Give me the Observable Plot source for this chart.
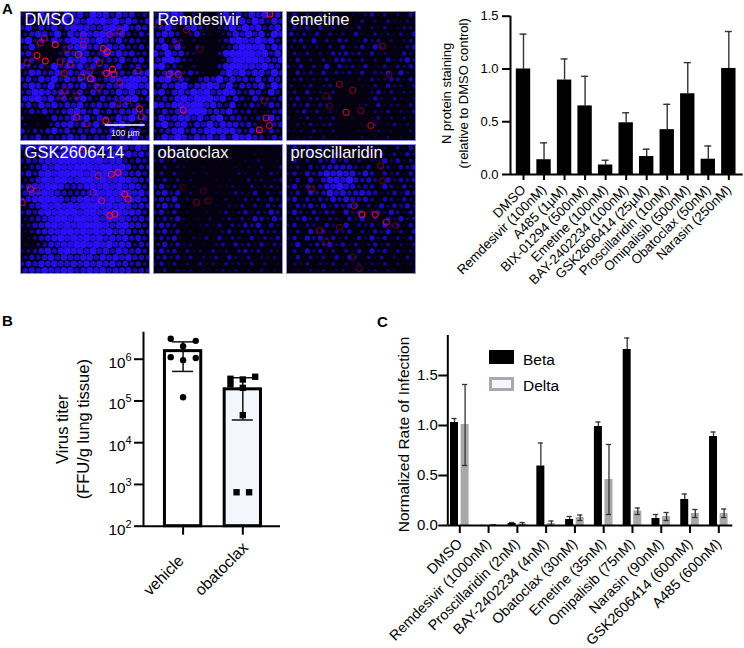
<!DOCTYPE html>
<html>
<head>
<meta charset="utf-8">
<script src="https://cdn.jsdelivr.net/npm/d3@7"></script>
<script src="https://cdn.jsdelivr.net/npm/@observablehq/plot@0.6"></script>
<style>
html,body{margin:0;padding:0;background:#fff}
#page{position:relative;width:744px;height:648px;overflow:hidden;font-family:"Liberation Sans",Arial,sans-serif;color:#000}
#page>.slot{position:absolute}
#page svg{display:block;overflow:visible;background:transparent}
.letter{position:absolute;font-weight:700;font-size:15px;line-height:15px}
.swatch{position:absolute;left:489px;width:25px;height:14px;box-sizing:border-box}
.legtext{position:absolute;left:523px;font-size:15.5px;line-height:16px}
</style>
</head>
<body>
<div id="page"></div>
<script>
// ---------- Micrograph panels: hand-estimated blue brightness (0-9) on a 20x20 grid; red rings [x, y, strength]
const panelNames = ["DMSO","Remdesivir","emetine","GSK2606414","obatoclax","proscillaridin"];
const dmsoBlue = ["46385729684978586735","37468395869897968647","58375847988768979576","46875938697898685364","69463857988697584653","48310147896758675463","57200247687459686745","46310358796846584673","75463957685746473564","48756847586357564768","57486958675846878998","68759467584757689978","46987675473756586857","78968574685375678946","57486857684675857463","36475468975846576856","42103756868475486957","31204678575846795463","63546857465764854763","54735468574657365845"];
const remBlue = ["48697043205857486957","75849533204968597486","36940685324596978568","68750473203586968497","47364031103589879785","69483042003479989586","85967431004899998958","68974320103799998768","79453031105899887976","46874642016979688596","78957405769586758476","47689578985947668496","68478698967985476385","46589799978475375446","87689899786483464375","47578999676854532356","48678868579466435485","69578476958775642356","45689576898886475364","48697586858497865364"];
const emeBlue = ["25142413102135241315","41524253201413142231","25351524132413241243","53425142315214231425","24526142541253413134","31423141523526312245","14241325453425231153","25131425542413152463","42514261534251241435","15341524342514352631","13423242100314235425","31241342101224153314","24152314100113524132","35243241100125314212","24352431210231523314","13524132100213241324","31241324102112413132","13142342110213124231","21314213100221312113","12231312121312131211"];
const gskBlue = ["58697879985768697586","46578698978957878675","46578899989897885465","35687988999899897465","47589899998989897675","35798998899898898765","57889986678989897875","68798765567989898785","57899986789898987886","36798989899989898676","46589899989989898875","35678998998979887675","34678989899998789775","24678899898989787565","12467898989897878675","21457788998989787465","34578689887978687675","46578687788687878665","57687877878787867564","67687788678786777565"];
const obaBlue = ["13042101100010101001","24143011101001020112","35241200101010213012","14032102010120213124","24142021201013213142","35241301021201423134","46342120102132142342","57461301021243251424","46572310210312424253","57462010120324142535","46351201212413524364","35462021312424265364","46541212324143546253","46351201213524435342","35462132415243152435","46352312134153425243","36451423142314534132","45352413241532413231","35241314231423241312","24132312123231213121"];
const proBlue = ["25142431201324231425","34151425320142514253","15241536352413263524","24153566664251342546","35264687877475153425","25163688796564263545","46253577976455164253","35164586756765235364","46253547576564154253","25463635465242635463","36425354163524536425","24635243153624153634","35243153261435263425","24163524351425362415","35264635241536352425","26135463524135241324","14263524142516351423","25142415253142413142","13241324132313241312","12132312312123132112"];
const panelBlue = [dmsoBlue,remBlue,emeBlue,gskBlue,obaBlue,proBlue];
const dmsoRed = [[50,133,.95],[105,100,.95],[75,150,.9],[60,95,.6],[72,80,.6],[175,130,.8],[250,112,.95],[262,122,.95],[238,155,.6],[212,203,.95],[260,187,.9],[278,175,.95],[283,190,.8],[185,198,.6],[132,187,.6],[150,160,.6],[120,152,.5],[300,60,.5],[270,70,.5],[190,75,.4],[190,100,.5],[140,115,.4],[135,240,.4],[125,255,.4],[170,255,.4],[235,230,.5],[295,280,.4],[325,270,.4],[360,295,.7],[365,318,.7],[258,330,.9],[170,320,.6],[200,340,.4],[300,215,.5],[355,180,.5],[20,155,.5],[210,180,.5]];
const remRed = [[352,8,.95],[320,358,.95],[340,322,.8],[350,345,.7],[90,298,.8],[75,190,.7],[48,190,.7],[15,40,.4],[100,55,.4],[70,100,.4],[335,270,.4],[140,115,.3]];
const emeRed = [[255,345,.6],[180,305,.7],[200,238,.5],[160,220,.5],[120,255,.3],[130,285,.3],[290,105,.4],[225,300,.4],[310,190,.3]];
const gskRed = [[275,90,.9],[295,85,.9],[315,150,.9],[325,165,.9],[270,215,.95],[285,210,.95],[245,170,.7],[30,135,.7],[5,175,.7],[50,140,.4],[235,95,.5],[190,10,.5],[220,145,.4]];
const obaRed = [[150,140,.25],[130,175,.35],[165,170,.3],[90,130,.2]];
const proRed = [[228,212,.95],[268,212,.8],[302,235,.7],[285,65,.4],[75,135,.4],[100,260,.4],[205,185,.5],[160,250,.3],[200,340,.3],[220,375,.3],[290,110,.3],[120,295,.3],[330,245,.3]];
const panelRed = [dmsoRed,remRed,emeRed,gskRed,obaRed,proRed];

// ---------- Panel A bars
const aNames = ["DMSO","Remdesivir (100nM)","A485 (1µM)","BIX-01294 (500nM)","Emetine (100nM)","BAY-2402234 (100nM)","GSK2606414 (25µM)","Proscillaridin (10nM)","Omipalisib (500nM)","Obatoclax (50nM)","Narasin (250nM)"];
const aMean = [1.0,0.14,0.895,0.65,0.09,0.49,0.17,0.425,0.765,0.145,1.005];
const aTop  = [1.33,0.30,1.095,0.93,0.135,0.585,0.24,0.665,1.06,0.27,1.355];

// ---------- Panel B
const bNames = ["vehicle","obatoclax"];
const bMean = [1.56e6,1.9e5];
const bLow  = [5.1e5,3.5e4];
const bHigh = [2.6e6,3.6e5];
const bFill = ["#ffffff","#f4f6fd"];
const vehicleX = [-0.207,0.212,0,-0.207,0.212,0,0];
const vehicleY = [3.08e6,2.75e6,2.05e6,1.12e6,1.07e6,9.5e5,1.23e5];
const obaX = [-0.207,-0.207,0,0.207,0,0,-0.105,0.105];
const obaY = [3.4e5,2.5e5,3.27e5,3.8e5,2.06e5,4.57e4,650,650];
const bExp = [2,3,4,5,6];

// ---------- Panel C
const cNames = ["DMSO","Remdesivir (1000nM)","Proscillaridin (2nM)","BAY-2402234 (4nM)","Obatoclax (30nM)","Emetine (35nM)","Omipalisib (75nM)","Narasin (90nM)","GSK2606414 (600nM)","A485 (600nM)"];
const betaMean = [1.03,0,0.02,0.595,0.06,0.99,1.76,0.07,0.26,0.89];
const betaHigh = [1.07,0,0.03,0.825,0.09,1.035,1.875,0.11,0.315,0.935];
const deltaMean = [1.01,0.005,0.015,0.02,0.08,0.46,0.145,0.09,0.12,0.12];
const deltaLow  = [0.60,0.005,0.005,0,0.05,0.11,0.11,0.05,0.08,0.08];
const deltaHigh = [1.41,0.005,0.03,0.045,0.105,0.81,0.175,0.13,0.16,0.165];

const FONT = '"Liberation Sans",Arial,sans-serif';
const page = document.getElementById("page");
function place(node,left,top){const d=document.createElement("div");d.className="slot";d.style.left=left+"px";d.style.top=top+"px";d.appendChild(node);page.appendChild(d);}

// ---------- micrographs
const lefts=[20,153,286], tops=[11,144];
panelNames.forEach((name,k)=>{
  const dots=[];
  panelBlue[k].forEach((row,r)=>{[...row].forEach((c,col)=>dots.push({x:(col+.5+(r%2?.25:-.25))*19.5,y:(r+.5)*19.5,v:+c}));});
  const isDmso = k===0;
  const plot = Plot.plot({
    width:129,height:129,margin:0,
    style:{fontFamily:FONT,background:"#05000f"},
    x:{domain:[0,390],axis:null},
    y:{domain:[390,0],axis:null},
    color:{type:"linear",domain:[0,5,9],range:["#05000f","#1608b0","#2a10f8"]},
    r:{type:"linear",domain:[0,9],range:[0.5,3.7]},
    marks:[
      Plot.dot(dots,{x:"x",y:"y",r:"v",fill:"v",clip:true}),
      Plot.dot(panelRed[k],{x:d=>d[0],y:d=>d[1],r:3,stroke:"#f01038",strokeWidth:1.1,strokeOpacity:d=>d[2],clip:true}),
      Plot.text([name],{frameAnchor:"top-left",dx:4,dy:2,fill:"#f4f4f4",fontSize:16.6,lineAnchor:"top"}),
      isDmso?Plot.ruleY([343],{x1:256,x2:377,stroke:"#fff",strokeWidth:1.5}):null,
      isDmso?Plot.text(["100 µm"],{x:317,y:369,fill:"#f0f0f0",fontSize:8.6}):null,
      Plot.frame({stroke:"#8c8cd8",strokeWidth:1})
    ]
  });
  place(plot,lefts[k%3],tops[Math.floor(k/3)]);
});

// ---------- Panel A bars
{
  const rows=aNames.map((n,i)=>({i,n,m:aMean[i],t:aTop[i]}));
  const plot=Plot.plot({
    width:314,height:280,marginLeft:80,marginRight:1.3,marginTop:15.7,marginBottom:106,
    style:{fontFamily:FONT,background:"transparent",color:"#000"},
    x:{domain:[-0.633,10.70]},
    y:{domain:[0,1.5]},
    marks:[
      Plot.ruleX(rows,{x:"i",y1:"m",y2:"t",stroke:"#333",strokeWidth:1.4}),
      Plot.ruleY(rows,{y:"t",x1:d=>d.i-0.17,x2:d=>d.i+0.17,stroke:"#333",strokeWidth:1.4}),
      Plot.rect(rows,{x1:d=>d.i-0.35,x2:d=>d.i+0.35,y1:0,y2:"m",fill:"#000"}),
      Plot.ruleY([0],{stroke:"#000",strokeWidth:2}),
      Plot.ruleX([-0.633],{stroke:"#000",strokeWidth:2}),
      Plot.axisY({ticks:[0,0.5,1,1.5],tickFormat:".1f",tickSize:8,tickPadding:4,strokeWidth:2,fontSize:13,label:null}),
      Plot.axisX({ticks:d3.range(11),tickFormat:()=>"",tickSize:6,strokeWidth:2,label:null}),
      Plot.text(rows,{x:"i",y:0,text:"n",rotate:-45,textAnchor:"end",lineAnchor:"middle",dx:0,dy:13,fontSize:13.3}),
      Plot.text(["N protein staining\n(relative to DMSO control)"],{frameAnchor:"left",textAnchor:"middle",rotate:-90,dx:-56.5,dy:-2,lineHeight:1.35,fontSize:13})
    ]
  });
  place(plot,430,0);
}

// ---------- Panel B
{
  const rows=bNames.map((n,i)=>({i,n,m:bMean[i],lo:bLow[i],hi:bHigh[i],f:bFill[i]}));
  const yTop=Math.pow(10,6.647);
  const plot=Plot.plot({
    width:285,height:348,marginLeft:143,marginRight:5,marginTop:31.7,marginBottom:122.3,
    style:{fontFamily:FONT,background:"transparent",color:"#000"},
    x:{domain:[-0.663,1.631]},
    y:{type:"log",domain:[100,yTop]},
    marks:[
      Plot.rect(rows,{x1:d=>d.i-0.304,x2:d=>d.i+0.304,y1:100,y2:"m",fill:"f",stroke:"#000",strokeWidth:3}),
      Plot.ruleX(rows,{x:"i",y1:"lo",y2:"hi",stroke:"#111",strokeWidth:1.5}),
      Plot.ruleY(rows,{y:"lo",x1:d=>d.i-0.176,x2:d=>d.i+0.176,stroke:"#111",strokeWidth:1.5}),
      Plot.ruleY(rows,{y:"hi",x1:d=>d.i-0.176,x2:d=>d.i+0.176,stroke:"#111",strokeWidth:1.5}),
      Plot.dot(vehicleX,{x:d=>d,y:(d,i)=>vehicleY[i],r:3.2,fill:"#000"}),
      Plot.dot(obaX,{x:d=>1+d,y:(d,i)=>obaY[i],r:3.6,symbol:"square",fill:"#000"}),
      Plot.ruleY([100],{stroke:"#000",strokeWidth:2}),
      Plot.ruleX([-0.663],{stroke:"#000",strokeWidth:2}),
      Plot.axisY({ticks:bExp.map(e=>Math.pow(10,e)),tickFormat:()=>"",tickSize:9,strokeWidth:2,label:null}),
      Plot.text(bExp,{y:e=>Math.pow(10,e),frameAnchor:"left",text:()=>"10",textAnchor:"end",dx:-18,dy:3.5,fontSize:15.3}),
      Plot.text(bExp,{y:e=>Math.pow(10,e),frameAnchor:"left",text:e=>String(e),textAnchor:"start",dx:-18,dy:-2,fontSize:11}),
      Plot.axisX({ticks:[0,1],tickFormat:()=>"",tickSize:9,strokeWidth:2,label:null}),
      Plot.text(rows.slice(0,1),{x:"i",y:100,text:"n",rotate:-45,textAnchor:"end",lineAnchor:"middle",dx:-2,dy:32,fontSize:15.8}),
      Plot.text(rows.slice(1),{x:"i",y:100,text:"n",rotate:-45,textAnchor:"end",lineAnchor:"middle",dx:2.7,dy:19,fontSize:15.8}),
      Plot.text(["Virus titer\n(FFU/g lung tissue)"],{frameAnchor:"left",textAnchor:"middle",rotate:-90,dx:-72,lineHeight:1.3,fontSize:16.5})
    ]
  });
  place(plot,0,300);
}

// ---------- Panel C
{
  const beta=cNames.map((n,i)=>({x:i-0.184,m:betaMean[i],hi:betaHigh[i]}));
  const delta=cNames.map((n,i)=>({x:i+0.184,m:deltaMean[i],lo:deltaLow[i],hi:deltaHigh[i]}));
  const plot=Plot.plot({
    width:374,height:338,marginLeft:77.3,marginRight:11.7,marginTop:25,marginBottom:123,
    style:{fontFamily:FONT,background:"transparent",color:"#000"},
    x:{domain:[-0.417,9.486]},
    y:{domain:[0,1.9]},
    marks:[
      Plot.ruleX(beta,{x:"x",y1:"m",y2:"hi",stroke:"#333",strokeWidth:1.3}),
      Plot.ruleY(beta,{y:"hi",x1:d=>d.x-0.09,x2:d=>d.x+0.09,stroke:"#333",strokeWidth:1.3}),
      Plot.rect(beta,{x1:d=>d.x-0.139,x2:d=>d.x+0.139,y1:0,y2:"m",fill:"#000"}),
      Plot.rect(delta,{x1:d=>d.x-0.139,x2:d=>d.x+0.139,y1:0,y2:"m",fill:"#a9a9ac"}),
      Plot.ruleX(delta,{x:"x",y1:"lo",y2:"hi",stroke:"#333",strokeWidth:1.3}),
      Plot.ruleY(delta,{y:"hi",x1:d=>d.x-0.09,x2:d=>d.x+0.09,stroke:"#333",strokeWidth:1.3}),
      Plot.ruleY(delta,{y:"lo",x1:d=>d.x-0.09,x2:d=>d.x+0.09,stroke:"#333",strokeWidth:1.3}),
      Plot.ruleY([0],{stroke:"#000",strokeWidth:2}),
      Plot.ruleX([-0.417],{stroke:"#000",strokeWidth:2}),
      Plot.axisY({ticks:[0,0.5,1,1.5],tickFormat:".1f",tickSize:9,tickPadding:1,strokeWidth:2,fontSize:15,label:null}),
      Plot.axisX({ticks:d3.range(10),tickFormat:()=>"",tickSize:8,strokeWidth:2,label:null}),
      Plot.text(cNames,{x:(d,i)=>i,y:0,rotate:-45,textAnchor:"end",lineAnchor:"middle",dx:0,dy:16,fontSize:14.3}),
      Plot.text(["Normalized Rate of Infection"],{frameAnchor:"left",textAnchor:"middle",rotate:-90,dx:-44,dy:4,fontSize:15.5})
    ]
  });
  place(plot,370,310);
}

// ---------- legend and panel letters
function add(cls,text,css){const d=document.createElement("div");d.className=cls;if(text)d.textContent=text;Object.assign(d.style,css);page.appendChild(d);}
add("swatch","",{top:"350px",background:"#000"});
add("swatch","",{top:"377px",background:"#f4f6fd",border:"3px solid #a9a9ac"});
add("legtext","Beta",{top:"352px"});
add("legtext","Delta",{top:"378px"});
add("letter","A",{left:"2px",top:"1px"});
add("letter","B",{left:"2px",top:"313px"});
add("letter","C",{left:"377px",top:"314px"});
</script>
</body>
</html>
